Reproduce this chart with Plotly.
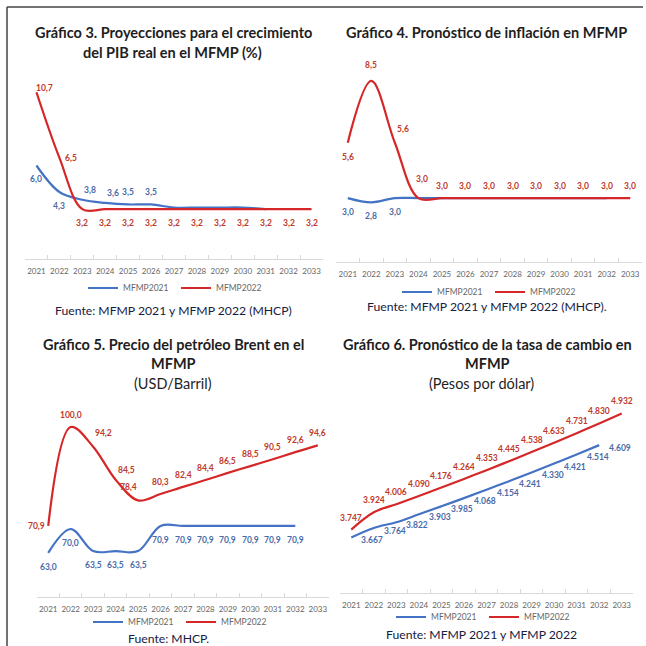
import plotly.graph_objects as go

years = [str(y) for y in range(2021, 2034)]

# Gráfico 3: PIB real (%)
pib_2021 = [6.0, 4.3, 3.8, 3.6, 3.5, 3.5, 3.3, 3.3, 3.3, 3.3, 3.2]
pib_2022 = [10.7, 6.5, 3.2, 3.2, 3.2, 3.2, 3.2, 3.2, 3.2, 3.2, 3.2, 3.2, 3.2]
pib_2021_labeled = 6

# Gráfico 4: inflación
inf_2021 = [3.0, 2.8, 3.0, 3.0, 3.0, 3.0, 3.0, 3.0, 3.0, 3.0, 3.0, 3.0]
inf_2022 = [5.6, 8.5, 5.6, 3.0, 3.0, 3.0, 3.0, 3.0, 3.0, 3.0, 3.0, 3.0, 3.0]
inf_2021_labeled = 3

# Gráfico 5: Brent (USD/Barril)
brent_2021 = [63.0, 70.0, 63.5, 63.5, 63.5, 70.9, 70.9, 70.9, 70.9, 70.9, 70.9, 70.9]
brent_2022 = [70.9, 100.0, 94.2, 84.5, 78.4, 80.3, 82.4, 84.4, 86.5, 88.5, 90.5, 92.6, 94.6]

# Gráfico 6: tasa de cambio (Pesos por dólar)
trm_2021 = [3667, 3764, 3822, 3903, 3985, 4068, 4154, 4241, 4330, 4421, 4514, 4609]
trm_2022 = [3747, 3924, 4006, 4090, 4176, 4264, 4353, 4445, 4538, 4633, 4731, 4830, 4932]

series_names = ["MFMP2021", "MFMP2022"]

BLUE = "#4472C4"
RED = "#D62728"
BLUE_T = "#4A6BA8"
RED_T = "#C0392B"
FONT = "Lato"
W = 646.0

# label placement styles: (xanchor, yanchor, xshift, yshift)
POS = {
    "b": ("center", "top", 0, -7),
    "t": ("center", "bottom", 0, 5),
    "t2": ("center", "bottom", 0, 9),
    "t3": ("center", "bottom", 4, 12),
    "tr": ("left", "bottom", 0, 3),
    "tr2": ("left", "bottom", 0, 7),
    "r": ("left", "middle", 4, 0),
    "r0": ("left", "middle", -2, 4),
    "l": ("right", "middle", -1, 0),
    "tl": ("right", "bottom", 1, 6),
    "br": ("left", "middle", 8, -3),
}


def dec1(v):
    return f"{v:.1f}".replace(".", ",")


def thou(v):
    return f"{v:,}".replace(",", ".")


fig = go.Figure()


def add_pair(idx, blue, red, fmt, blue_pos, red_pos, blue_n_labels=None):
    xa = "x" if idx == 1 else f"x{idx}"
    ya = "y" if idx == 1 else f"y{idx}"
    lg = "legend" if idx == 1 else f"legend{idx}"
    n = len(blue) if blue_n_labels is None else blue_n_labels
    fig.add_trace(go.Scatter(
        x=years[:len(blue)], y=blue, name=series_names[0], mode="lines",
        line=dict(color=BLUE, width=2.2, shape="spline", smoothing=1.0),
        xaxis=xa, yaxis=ya, legend=lg, cliponaxis=False, hoverinfo="skip"))
    fig.add_trace(go.Scatter(
        x=years[:len(red)], y=red, name=series_names[1], mode="lines",
        line=dict(color=RED, width=2.2, shape="spline", smoothing=1.0),
        xaxis=xa, yaxis=ya, legend=lg, cliponaxis=False, hoverinfo="skip"))
    for vals, poss, col, cnt in ((blue, blue_pos, BLUE_T, n), (red, red_pos, RED_T, len(red))):
        for i, v in enumerate(vals[:cnt]):
            xan, yan, dx, dy = POS[poss[i]]
            # category axis: annotation x given as the category index of years[i]
            fig.add_annotation(x=years.index(years[i]), y=v, xref=xa, yref=ya, text=fmt(v),
                               showarrow=False, xanchor=xan, yanchor=yan,
                               xshift=dx, yshift=dy,
                               font=dict(family=FONT, size=8.5, color=col, weight="bold"))


add_pair(1, pib_2021, pib_2022, dec1,
         ["b", "b", "tr", "tr", "t", "t"],
         ["r0", "r"] + ["b"] * 11,
         pib_2021_labeled)
add_pair(2, inf_2021, inf_2022, dec1,
         ["b"] * 3,
         ["b", "t2", "tr2", "t3"] + ["t"] * 9,
         inf_2021_labeled)
add_pair(3, brent_2021, brent_2022, dec1,
         ["b"] * 12,
         ["l", "t", "tr2", "tr", "tl"] + ["t"] * 8)
add_pair(4, trm_2021, trm_2022, thou,
         ["br"] * 12,
         ["t"] * 13)


def px_x(a, b):
    return [a / W, b / W]


def px_y(top, bottom):
    return [1 - bottom / W, 1 - top / W]


panels = {
    1: dict(x=px_x(25, 323), y=px_y(72, 259), r=[0, 12]),
    2: dict(x=px_x(336, 642), y=px_y(49, 262), r=[0, 10]),
    3: dict(x=px_x(37, 329), y=px_y(393, 597), r=[50, 110]),
    4: dict(x=px_x(340, 633), y=px_y(397, 593), r=[3100, 5100]),
}

layout = dict(
    width=646, height=646, margin=dict(l=0, r=0, t=0, b=0),
    paper_bgcolor="white", plot_bgcolor="white",
    font=dict(family=FONT, color="#222"),
    separators=",.",
)

for i, p in panels.items():
    xk = "xaxis" if i == 1 else f"xaxis{i}"
    yk = "yaxis" if i == 1 else f"yaxis{i}"
    ya = "y" if i == 1 else f"y{i}"
    xa = "x" if i == 1 else f"x{i}"
    layout[xk] = dict(domain=p["x"], anchor=ya, type="category", range=[-0.5, 12.5],
                      categoryorder="array", categoryarray=years,
                      showline=True, linecolor="#D9D9D9", linewidth=1,
                      ticks="inside", tickson="boundaries", ticklen=4, tickcolor="#D9D9D9",
                      tickangle=0, ticklabelstandoff=4,
                      tickfont=dict(family=FONT, size=8, color="#666"),
                      showgrid=False, zeroline=False, fixedrange=True)
    layout[yk] = dict(domain=p["y"], anchor=xa, range=p["r"], visible=False,
                      showgrid=False, zeroline=False, fixedrange=True)

legend_pos = {1: (176, 288), 2: (490, 292), 3: (181, 622), 4: (484, 617)}
for i, (lx, ly) in legend_pos.items():
    lk = "legend" if i == 1 else f"legend{i}"
    layout[lk] = dict(orientation="h", x=lx / W, y=1 - ly / W, xanchor="center", yanchor="middle",
                      font=dict(family=FONT, size=8.5, color="#666"), itemwidth=30,
                      entrywidth=48, entrywidthmode="pixels",
                      bgcolor="rgba(0,0,0,0)", tracegroupgap=0)

fig.update_layout(**layout)

TITLE_C = "#1E1E1E"
SRC_C = "#17203F"
texts = [
    ("Gráfico 3. Proyecciones para el crecimiento", 173, 32, True, 14.5, TITLE_C),
    ("del PIB real en el MFMP (%)", 172, 52, True, 14.5, TITLE_C),
    ("Gráfico 4. Pronóstico de inflación en MFMP", 486, 32, True, 14.5, TITLE_C),
    ("Gráfico 5. Precio del petróleo Brent en el", 173, 345, True, 14.5, TITLE_C),
    ("MFMP", 173, 363, True, 14.5, TITLE_C),
    ("(USD/Barril)", 173, 383, False, 14.5, TITLE_C),
    ("Gráfico 6. Pronóstico de la tasa de cambio en", 487, 345, True, 14.5, TITLE_C),
    ("MFMP", 487, 363, True, 14.5, TITLE_C),
    ("(Pesos por dólar)", 482, 383, False, 14.5, TITLE_C),
    ("Fuente: MFMP 2021 y MFMP 2022 (MHCP)", 173, 310, False, 12.2, SRC_C),
    ("Fuente: MFMP 2021 y MFMP 2022 (MHCP).", 487, 307, False, 12.2, SRC_C),
    ("Fuente: MHCP.", 168, 638, False, 12.2, SRC_C),
    ("Fuente: MFMP 2021 y MFMP 2022", 482, 634, False, 12.2, SRC_C),
]
for t, x, y, bold, size, col in texts:
    fig.add_annotation(text=t, x=x / W, y=1 - y / W, xref="paper", yref="paper",
                       xanchor="center", yanchor="middle", showarrow=False,
                       font=dict(family=FONT, size=size, color=col, weight="bold" if bold else "normal"))

# outer frame (top and left edges)
fig.add_shape(type="line", x0=7 / W, x1=643 / W, y0=1 - 7 / W, y1=1 - 7 / W,
              xref="paper", yref="paper", line=dict(color="#444", width=1.5))
fig.add_shape(type="line", x0=7 / W, x1=7 / W, y0=0, y1=1 - 7 / W,
              xref="paper", yref="paper", line=dict(color="#444", width=1.5))

fig.write_html("out.html")
